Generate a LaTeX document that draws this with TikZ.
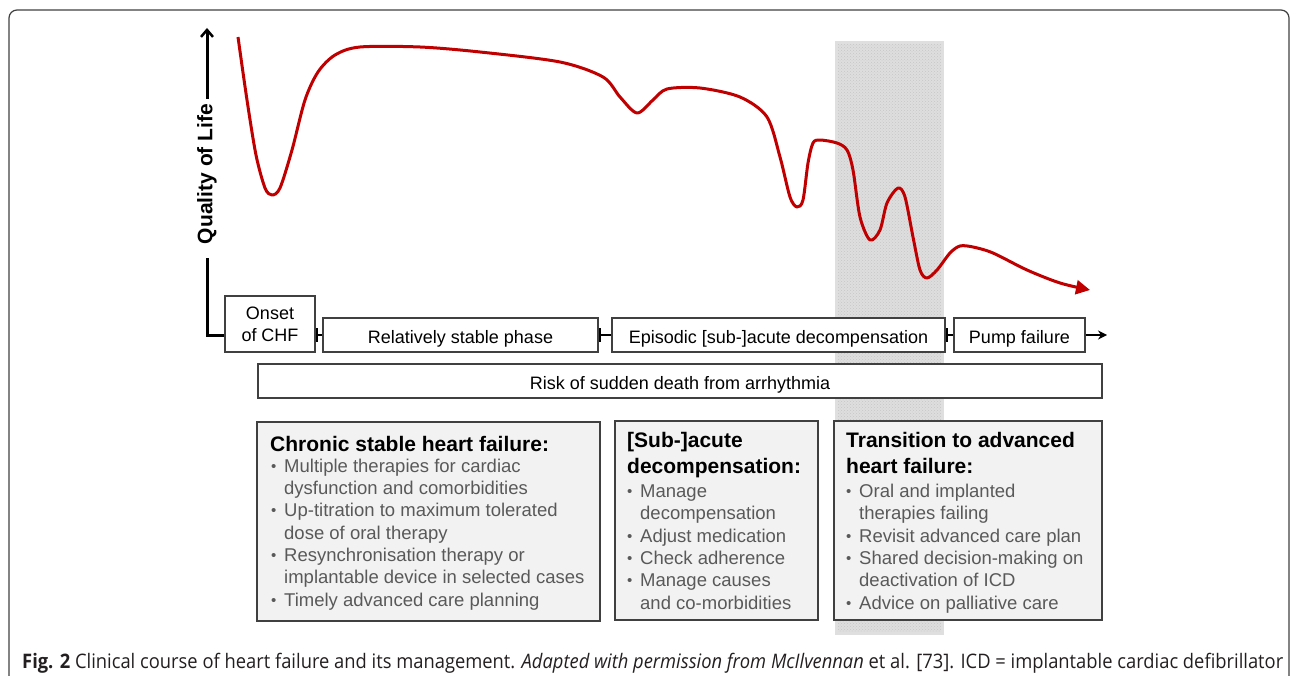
\documentclass[tikz,border=0pt]{standalone}
\usepackage{graphicx}
\usepackage{fontspec}
\setmainfont{Liberation Sans}
\newfontfamily\capfont{Open Sans}
\usetikzlibrary{arrows.meta,patterns,positioning}

\definecolor{curvered}{HTML}{C00000}
\definecolor{bulletgray}{HTML}{595959}
\definecolor{boxgray}{HTML}{F2F2F2}
\definecolor{bandgray}{HTML}{DEDEDE}
\definecolor{edgegray}{HTML}{404040}
\definecolor{captext}{HTML}{231F20}

\newcommand{\itm}{\makebox[13pt][l]{\raisebox{1pt}{\fontsize{15}{15}\selectfont •}}}
\newcommand{\cont}{\hspace*{13pt}}

% multi-line nodes are placed by the baseline of their last line
\tikzset{
  phase/.style={draw=edgegray, line width=1.2pt, fill=white, minimum height=34pt, inner sep=0pt, align=center, font=\fontsize{18}{22}\selectfont},
  phaseline/.style={phase, text height=17pt, text depth=0pt},
  infobox/.style={draw=edgegray, line width=1.5pt, fill=boxgray, inner sep=0pt},
  infotitle/.style={anchor=base west, inner sep=0pt, align=left, font=\fontsize{21}{26}\selectfont\bfseries},
  infolist/.style={anchor=base west, inner sep=0pt, align=left, text=bulletgray, font=\fontsize{18.5}{22.3}\selectfont},
  link/.style={line width=2pt, {Bar[width=14pt,line width=2.2pt]}-},
}

\begin{document}
\begin{tikzpicture}[x=1pt, y=-1pt]
  \useasboundingbox (0,0) rectangle (1290,676);
  % frame
  \draw[edgegray, line width=1.2pt, rounded corners=8pt] (9,700) -- (9,10) -- (1289,10) -- (1289,700);

  % advanced heart failure band
  \fill[bandgray] (836,43) rectangle (942,633);
  \fill[pattern=crosshatch dots, pattern color=gray!45] (836,43) rectangle (942,633);
  \draw[gray!25, line width=3pt] (836,43) rectangle (942,633);

  % quality of life axis
  \node[rotate=90, inner sep=0pt, font=\fontsize{21}{21}\selectfont\bfseries] (qol) at (207,174) {Quality of Life};
  \coordinate (ytop) at (207,28);
  \coordinate (origin) at (207,335);

  % phases
  \node[phase, minimum width=90pt, minimum height=56pt] (onset) at (270,324) {Onset\\of CHF};
  \node[phaseline, minimum width=275pt] (stable) at (460.5,335) {Relatively stable phase};
  \node[phaseline, minimum width=333pt] (episodic) at (778.5,335) {Episodic [sub-]acute decompensation};
  \node[phaseline, minimum width=131pt] (pump) at (1019.5,335) {Pump failure};
  \coordinate (tend) at (1107,335);
  \node[phaseline, minimum width=844pt] (risk) at (680,381) {Risk of sudden death from arrhythmia};

  \draw[line width=3pt, shorten <=5pt, -{Straight Barb[length=7pt,width=12pt,line width=2.5pt]}] (qol.east) -- (ytop);
  \draw[line width=3pt, shorten <=14pt] (qol.west) -- (origin) -- (onset.west |- origin);
  \draw[link] (onset.east |- origin) -- (stable.west);
  \draw[link] (stable.east) -- (episodic.west);
  \draw[link] (episodic.east) -- (pump.west);
  \draw[line width=2pt, -{Stealth[length=9pt,width=9pt]}] (pump.east) -- (tend);

  % quality of life curve
  \draw[curvered, line width=3pt, line join=round, -{Triangle[length=14pt,width=14pt]}] plot[smooth, tension=0.5] coordinates {
    (238,37) (247,100) (256,155) (265,188) (272,195) (280,188) (292,150) (305,100) (318,72) (335,55) (360,47) (420,47)
    (480,52) (560,62) (603,77) (620,97) (637,113) (653,100) (667,89) (700,88) (740,97) (767,117) (780,157) (790,197)
    (797,207) (803,200) (808,163) (813,143) (820,140) (837,143) (847,150) (853,170) (860,217) (870,240) (880,230)
    (887,203) (898,188) (905,197) (913,237) (920,270) (927,278) (937,270) (950,253) (960,246) (973,247) (993,253)
    (1027,270) (1060,283) (1090,290)};

  % management boxes
  \node[infobox, minimum width=343pt, minimum height=199pt] (chronic) at (428.5,521.5) {};
  \node[infotitle] (chronictitle) at (270,451) {Chronic stable heart failure:};
  \node[infolist] (chroniclist) at (271,606) {\itm Multiple therapies for cardiac\\
    \cont dysfunction and comorbidities\\
    \itm Up-titration to maximum tolerated\\
    \cont dose of oral therapy\\
    \itm Resynchronisation therapy or\\
    \cont implantable device in selected cases\\
    \itm Timely advanced care planning};

  \node[infobox, minimum width=203pt, minimum height=199pt] (subacute) at (716.5,520.5) {};
  \node[infotitle] (subacutetitle) at (627,473) {[Sub-]acute\\decompensation:};
  \node[infolist] (subacutelist) at (627,609) {\itm Manage\\
    \cont decompensation\\
    \itm Adjust medication\\
    \itm Check adherence\\
    \itm Manage causes\\
    \cont and co-morbidities};

  \node[infobox, minimum width=268pt, minimum height=199pt] (advanced) at (968,520.5) {};
  \node[infotitle] (advancedtitle) at (846,473) {Transition to advanced\\heart failure:};
  \node[infolist] (advancedlist) at (846,609) {\itm Oral and implanted\\
    \cont therapies failing\\
    \itm Revisit advanced care plan\\
    \itm Shared decision-making on\\
    \cont deactivation of ICD\\
    \itm Advice on palliative care};

  % caption
  \node[anchor=base west, inner sep=0pt, text=captext] (caption) at (22,668) {\resizebox{1261pt}{\height}{\capfont\fontsize{20}{24}\selectfont\textbf{Fig. 2} Clinical course of heart failure and its management. \textit{Adapted with permission from McIlvennan} et al. [73]. ICD = implantable cardiac defibrillator}};
\end{tikzpicture}
\end{document}
